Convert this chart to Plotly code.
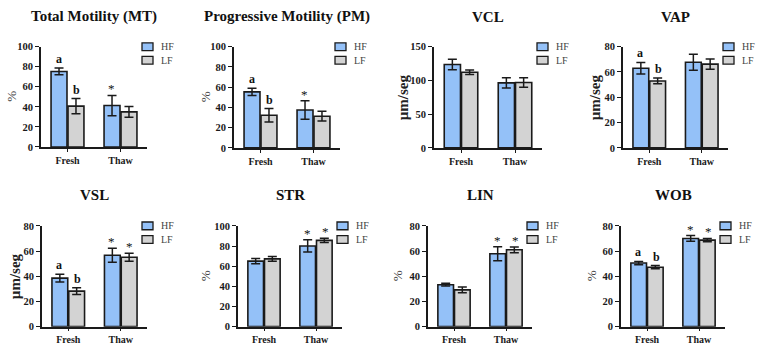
import plotly.graph_objects as go

W, H = 758, 352

categories = ["Fresh", "Thaw"]
titles = ["Total Motility (MT)", "Progressive Motility (PM)", "VCL", "VAP",
          "VSL", "STR", "LIN", "WOB"]
y_titles = ["%", "%", "µm/seg", "µm/seg", "µm/seg", "%", "%", "%"]
y_max = [100, 100, 150, 80, 80, 100, 80, 80]
y_dtick = [20, 20, 50, 20, 20, 20, 20, 20]
series_names = ["HF", "LF"]

hf_mean = [[75.3, 41.3], [55.3, 37.4], [123.6, 96.3], [62.9, 67.7],
           [38.5, 56.7], [65.0, 80.1], [33.3, 57.9], [50.5, 70.0]]
hf_err = [[3.3, 10.1], [3.6, 9.1], [7.7, 7.5], [4.6, 6.3],
          [3.0, 5.6], [2.6, 6.1], [1.1, 5.6], [1.3, 2.3]]
lf_mean = [[40.7, 35.0], [32.3, 31.3], [112.0, 96.8], [52.9, 66.2],
           [28.2, 55.1], [67.3, 85.6], [29.2, 61.0], [47.2, 68.7]]
lf_err = [[7.5, 5.4], [6.6, 4.8], [3.4, 7.0], [2.3, 4.0],
          [2.6, 3.2], [2.3, 2.1], [2.3, 2.3], [1.3, 1.3]]

# significance labels: [HF fresh, LF fresh, HF thaw, LF thaw]
sig = [["a", "b", "*", ""], ["a", "b", "*", ""], ["", "", "", ""], ["a", "b", "", ""],
       ["a", "b", "*", "*"], ["", "", "*", "*"], ["", "", "*", "*"], ["a", "b", "*", "*"]]

HF_COLOR = "#94c1f8"
LF_COLOR = "#d3d3d3"
colors = [HF_COLOR, LF_COLOR]
FONT = "Liberation Serif"

# plot-area pixel boxes: (left, right, top, bottom)
boxes = [(41, 147, 43, 146.5), (234, 340, 43, 147.5), (434, 542, 43, 147.5), (623, 728, 43, 147.5),
         (42, 147, 228, 332), (238, 342, 228, 332), (428, 532, 228, 332), (621, 725, 228, 332)]
ytitle_x = [12, 205, 403, 595, 15, 205, 397, 591]

fig = go.Figure()
annotations = []
shapes = []
layout = {}

for i in range(8):
    n = i + 1
    sx = "" if n == 1 else str(n)
    xa, ya = "x" + sx, "y" + sx
    l, r, t, b = boxes[i]
    for name, mean, err, col in [("HF", hf_mean[i], hf_err[i], HF_COLOR),
                                 ("LF", lf_mean[i], lf_err[i], LF_COLOR)]:
        fig.add_trace(go.Bar(
            x=categories, y=mean, name=name, xaxis=xa, yaxis=ya, showlegend=False,
            marker=dict(color=col, line=dict(color="#1a1a1a", width=1.6)),
            error_y=dict(type="data", array=err, color="#1a1a1a", thickness=1.5, width=4.5),
        ))
    layout["xaxis" + sx] = dict(
        domain=[l / W, r / W], anchor=ya, type="category", range=[-0.5, 1.5],
        showline=True, linecolor="#1a1a1a", linewidth=1.6, ticks="outside",
        ticklen=3, tickwidth=1.4, tickcolor="#1a1a1a", showgrid=False, zeroline=False,
        tickfont=dict(family=FONT, size=10, color="#1a1a1a", weight="bold"),
    )
    layout["yaxis" + sx] = dict(
        domain=[1 - b / H, 1 - t / H], anchor=xa, range=[0, y_max[i]], dtick=y_dtick[i],
        showline=True, linecolor="#1a1a1a", linewidth=1.6, ticks="outside",
        ticklen=4, tickwidth=1.4, tickcolor="#1a1a1a", showgrid=False, zeroline=False,
        tickfont=dict(family=FONT, size=10.5, color="#1a1a1a", weight="bold"),
    )
    # legend (per panel)
    for k in range(2):
        cy = t + k * 14
        shapes.append(dict(
            type="rect", xref="paper", yref="paper",
            x0=(r - 5) / W, x1=(r + 6) / W, y0=1 - (cy - 4) / H, y1=1 - (cy + 4) / H,
            fillcolor=colors[k], line=dict(color="#1a1a1a", width=1.3),
        ))
        annotations.append(dict(
            text=series_names[k], xref="paper", yref="paper",
            x=(r + 12) / W, y=1 - cy / H, xanchor="left", yanchor="middle",
            showarrow=False, font=dict(family=FONT, size=10, color="#444"),
        ))
    # panel title
    annotations.append(dict(
        text="<b>" + titles[i] + "</b>", xref="paper", yref="paper",
        x=(l + r) / 2 / W, y=1 - (12 if i < 4 else 196) / H,
        xanchor="center", yanchor="middle", showarrow=False,
        font=dict(family=FONT, size=15, color="#111"),
    ))
    # y-axis title
    ytxt = y_titles[i]
    bold = ytxt != "%"
    annotations.append(dict(
        text=("<b>" + ytxt + "</b>") if bold else ytxt, xref="paper", yref="paper",
        x=ytitle_x[i] / W, y=1 - (t + b) / 2 / H, textangle=-90,
        xanchor="center", yanchor="middle", showarrow=False,
        font=dict(family=FONT, size=15 if bold else 13, color="#222" if bold else "#444"),
    ))
    # significance letters
    pairs = [(hf_mean[i][0] + hf_err[i][0], 0, -9), (lf_mean[i][0] + lf_err[i][0], 0, 9),
             (hf_mean[i][1] + hf_err[i][1], 1, -9), (lf_mean[i][1] + lf_err[i][1], 1, 9)]
    for k, (ytop, ci, shift) in enumerate(pairs):
        if sig[i][k]:
            star = sig[i][k] == "*"
            annotations.append(dict(
                text=sig[i][k] if star else "<b>" + sig[i][k] + "</b>", xref=xa, yref=ya,
                x=categories[ci], y=ytop, xshift=shift, yshift=-3 if star else 0,
                xanchor="center", yanchor="bottom", showarrow=False,
                font=dict(family=FONT, size=13 if star else 12, color="#111"),
            ))

fig.update_layout(
    width=W, height=H, margin=dict(l=0, r=0, t=0, b=0),
    paper_bgcolor="white", plot_bgcolor="white",
    barmode="group", bargap=0.36, bargroupgap=0.06, showlegend=False,
    annotations=annotations, shapes=shapes, **layout,
)

fig.write_html("out.html")
